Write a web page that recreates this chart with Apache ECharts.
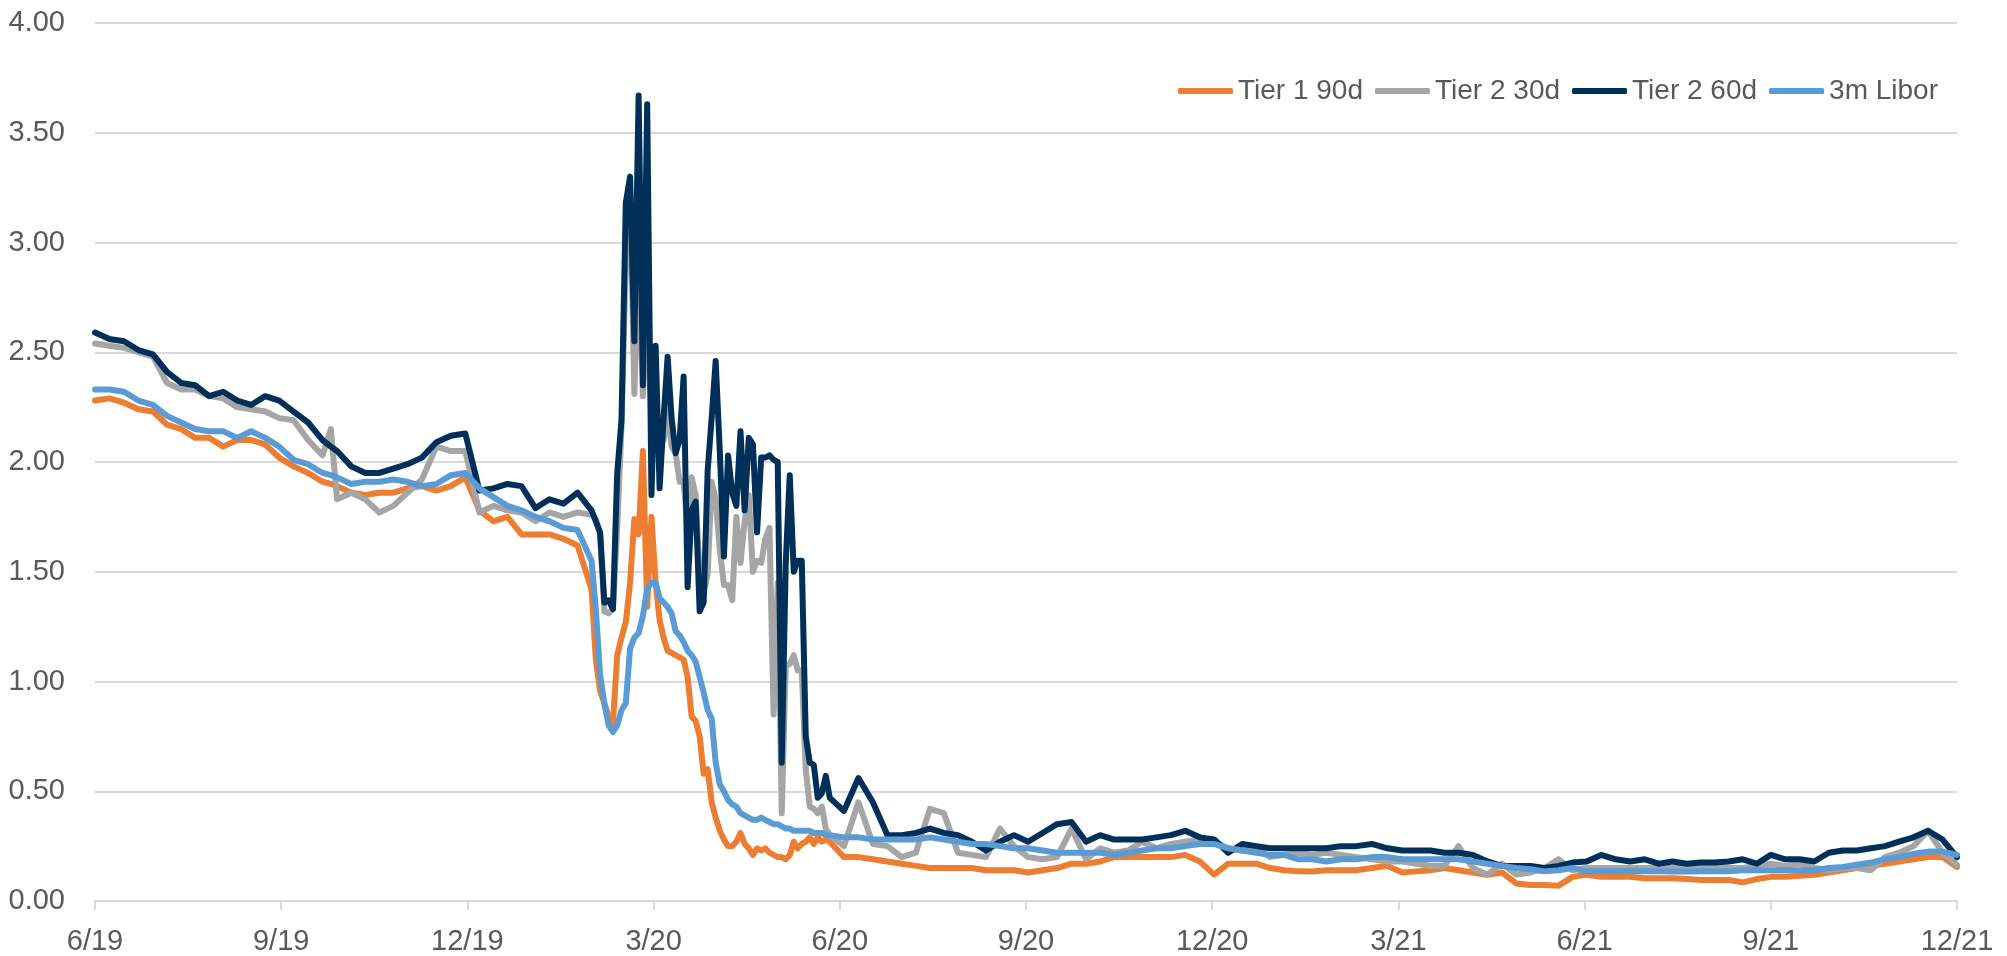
<!DOCTYPE html>
<html>
<head>
<meta charset="utf-8">
<title>Tier 1 / Tier 2 CP vs 3m Libor</title>
<script src="https://cdn.jsdelivr.net/npm/echarts@6.0.0/dist/echarts.min.js"></script>
<style>
  html, body { margin: 0; padding: 0; background: #fff; }
  #chart { width: 2007px; height: 956px; }
</style>
</head>
<body>
<div id="chart"></div>
<script>
// sample dates (weekly, every 2nd day through the spring 2020 spike)
const dates = [
  '2019-06-01', '2019-06-08', '2019-06-15', '2019-06-22', '2019-06-29', '2019-07-06', '2019-07-13', '2019-07-20', '2019-07-27',
  '2019-08-03', '2019-08-10', '2019-08-17', '2019-08-24', '2019-08-31', '2019-09-07', '2019-09-14', '2019-09-21', '2019-09-25',
  '2019-09-28', '2019-10-05', '2019-10-12', '2019-10-19', '2019-10-26', '2019-11-02', '2019-11-09', '2019-11-16', '2019-11-23',
  '2019-11-30', '2019-12-07', '2019-12-14', '2019-12-21', '2019-12-28', '2020-01-04', '2020-01-11', '2020-01-18', '2020-01-25',

  '2020-02-01', '2020-02-03', '2020-02-05', '2020-02-07', '2020-02-09', '2020-02-11', '2020-02-13', '2020-02-15',
  '2020-02-17', '2020-02-19', '2020-02-21', '2020-02-23', '2020-02-25', '2020-02-27', '2020-02-29',
  '2020-03-02', '2020-03-04', '2020-03-06', '2020-03-08', '2020-03-10', '2020-03-12', '2020-03-14', '2020-03-16',
  '2020-03-18', '2020-03-20', '2020-03-22', '2020-03-24', '2020-03-26', '2020-03-28', '2020-03-30',
  '2020-04-01', '2020-04-03', '2020-04-05', '2020-04-07', '2020-04-09', '2020-04-11', '2020-04-13', '2020-04-15',
  '2020-04-17', '2020-04-19', '2020-04-21', '2020-04-23', '2020-04-25', '2020-04-27', '2020-04-29',
  '2020-05-01', '2020-05-03', '2020-05-05', '2020-05-07', '2020-05-09', '2020-05-11', '2020-05-13',
  '2020-05-15', '2020-05-17', '2020-05-19', '2020-05-21', '2020-05-23', '2020-05-25', '2020-05-27',

  '2020-06-03', '2020-06-10', '2020-06-17', '2020-06-24', '2020-07-01', '2020-07-08', '2020-07-15', '2020-07-22', '2020-07-29',
  '2020-08-05', '2020-08-12', '2020-08-19', '2020-08-26', '2020-09-02', '2020-09-09', '2020-09-16', '2020-09-23', '2020-09-30',
  '2020-10-07', '2020-10-14', '2020-10-21', '2020-10-28', '2020-11-04', '2020-11-11', '2020-11-18', '2020-11-25',
  '2020-12-02', '2020-12-09', '2020-12-16', '2020-12-23', '2020-12-30',
  '2021-01-06', '2021-01-13', '2021-01-20', '2021-01-27', '2021-02-03', '2021-02-10', '2021-02-17', '2021-02-24',
  '2021-03-03', '2021-03-10', '2021-03-17', '2021-03-24', '2021-03-31', '2021-04-07', '2021-04-14', '2021-04-21', '2021-04-28',
  '2021-05-05', '2021-05-12', '2021-05-19', '2021-05-26', '2021-06-02', '2021-06-09', '2021-06-16', '2021-06-23', '2021-06-30',
  '2021-07-07', '2021-07-14', '2021-07-21', '2021-07-28', '2021-08-04', '2021-08-11', '2021-08-18', '2021-08-25',
  '2021-09-01', '2021-09-08', '2021-09-15', '2021-09-22', '2021-09-29', '2021-10-06', '2021-10-13', '2021-10-20', '2021-10-27',
  '2021-11-03', '2021-11-10', '2021-11-17', '2021-11-24', '2021-12-01'
];

const tier1_90d = [
  2.28, 2.29, 2.27, 2.24, 2.23, 2.17, 2.15, 2.11, 2.11, 2.07, 2.10, 2.10, 2.08, 2.02, 1.98, 1.95, 1.91, 1.90,
  1.89, 1.86, 1.85, 1.86, 1.86, 1.88, 1.89, 1.87, 1.89, 1.93, 1.78, 1.73, 1.75, 1.67, 1.67, 1.67, 1.65, 1.62,
  // Feb - May 2020
  1.42, 1.10, 0.96, 0.90, 0.84, 0.81, 1.12, 1.20, 1.27, 1.45, 1.74, 1.67, 2.05, 1.34, 1.75,
  1.45, 1.28, 1.20, 1.14, 1.13, 1.12, 1.11, 1.10, 1.02, 0.84, 0.82, 0.75, 0.58, 0.60, 0.45,
  0.38, 0.32, 0.28, 0.25, 0.25, 0.27, 0.31, 0.26, 0.24, 0.21, 0.24, 0.23, 0.24, 0.22, 0.21,
  0.20, 0.20, 0.19, 0.21, 0.27, 0.24, 0.26, 0.27, 0.29, 0.26, 0.29, 0.27, 0.28, 0.27,
  // Jun 2020 - Dec 2021
  0.20, 0.20, 0.19, 0.18, 0.17, 0.16, 0.15, 0.15, 0.15, 0.15, 0.14, 0.14, 0.14, 0.13, 0.14, 0.15, 0.17, 0.17,
  0.18, 0.20, 0.20, 0.20, 0.20, 0.20, 0.21, 0.18, 0.12, 0.17, 0.17, 0.17, 0.15,
  0.14, 0.135, 0.134, 0.14, 0.14, 0.14, 0.15, 0.16, 0.13, 0.135, 0.14, 0.15, 0.14, 0.13, 0.12, 0.13, 0.08,
  0.073, 0.073, 0.07, 0.11, 0.12, 0.11, 0.11, 0.11, 0.104, 0.104, 0.104, 0.10, 0.096, 0.096, 0.096, 0.085, 0.10,
  0.11, 0.11, 0.115, 0.12, 0.13, 0.14, 0.15, 0.16, 0.17, 0.18, 0.19, 0.20, 0.20, 0.155
];

const tier2_30d = [
  2.54, 2.53, 2.52, 2.50, 2.48, 2.36, 2.33, 2.33, 2.30, 2.29, 2.25, 2.24, 2.23, 2.20, 2.19, 2.10, 2.03, 2.15,
  1.83, 1.86, 1.83, 1.77, 1.80, 1.86, 1.92, 2.07, 2.05, 2.05, 1.77, 1.80, 1.78, 1.77, 1.73, 1.77, 1.75, 1.77,
  1.76, 1.74, 1.67, 1.32, 1.31, 1.33, 1.70, 2.16, 2.90, 3.22, 2.31, 2.95, 2.30, 2.70, 2.20,
  2.16, 2.13, 2.10, 2.25, 2.07, 2.04, 1.91, 1.91, 1.70, 1.93, 1.85, 1.49, 1.40, 1.49, 1.91,
  1.83, 1.60, 1.44, 1.44, 1.37, 1.75, 1.54, 1.73, 1.85, 1.50, 1.55, 1.54, 1.65, 1.70, 0.85,
  1.45, 0.40, 1.07, 1.08, 1.12, 1.05, 1.05, 0.60, 0.43, 0.42, 0.40, 0.43, 0.33, 0.30,
  0.25, 0.45, 0.26, 0.25, 0.20, 0.22, 0.42, 0.40, 0.22, 0.21, 0.20, 0.33, 0.25, 0.20, 0.19, 0.20, 0.33, 0.19,
  0.24, 0.22, 0.23, 0.27, 0.24, 0.26, 0.27, 0.28, 0.27, 0.24, 0.23, 0.24, 0.20,
  0.21, 0.22, 0.21, 0.22, 0.21, 0.20, 0.19, 0.18, 0.18, 0.17, 0.16, 0.16, 0.25, 0.15, 0.12, 0.17, 0.12,
  0.13, 0.15, 0.19, 0.14, 0.15, 0.15, 0.15, 0.15, 0.15, 0.15, 0.15, 0.15, 0.15, 0.15, 0.15, 0.15, 0.16,
  0.17, 0.16, 0.17, 0.15, 0.14, 0.15, 0.15, 0.14, 0.20, 0.22, 0.25, 0.32, 0.22, 0.165
];

const tier2_60d = [
  2.59, 2.56, 2.55, 2.51, 2.49, 2.41, 2.36, 2.35, 2.30, 2.32, 2.28, 2.26, 2.30, 2.28, 2.23, 2.18, 2.10, 2.07,
  2.05, 1.98, 1.95, 1.95, 1.97, 1.99, 2.02, 2.09, 2.12, 2.13, 1.87, 1.88, 1.90, 1.89, 1.79, 1.83, 1.81, 1.86,
  1.78, 1.73, 1.68, 1.36, 1.37, 1.33, 1.95, 2.19, 3.18, 3.30, 2.55, 3.67, 2.35, 3.63, 1.85,
  2.53, 1.88, 2.20, 2.48, 2.20, 2.04, 2.10, 2.39, 1.43, 1.78, 1.82, 1.32, 1.36, 1.96, 2.20,
  2.46, 2.05, 1.57, 2.03, 1.86, 1.80, 2.14, 1.78, 2.11, 2.08, 1.68, 2.02, 2.02, 2.03, 2.01,
  2.00, 0.63, 1.54, 1.94, 1.50, 1.55, 1.55, 0.75, 0.63, 0.62, 0.47, 0.49, 0.57, 0.47,
  0.41, 0.56, 0.45, 0.30, 0.30, 0.31, 0.33, 0.31, 0.30, 0.27, 0.23, 0.27, 0.30, 0.27, 0.31, 0.35, 0.36, 0.27,
  0.30, 0.28, 0.28, 0.28, 0.29, 0.30, 0.32, 0.29, 0.28, 0.22, 0.26, 0.25, 0.24,
  0.24, 0.24, 0.24, 0.24, 0.25, 0.25, 0.26, 0.24, 0.23, 0.23, 0.23, 0.22, 0.22, 0.21, 0.18, 0.16, 0.16,
  0.16, 0.15, 0.16, 0.175, 0.18, 0.21, 0.19, 0.18, 0.19, 0.17, 0.18, 0.17, 0.175, 0.175, 0.18, 0.19, 0.17,
  0.21, 0.19, 0.19, 0.18, 0.22, 0.23, 0.23, 0.24, 0.25, 0.27, 0.29, 0.32, 0.28, 0.20
];

const libor3m = [
  2.33, 2.33, 2.32, 2.28, 2.26, 2.21, 2.18, 2.15, 2.14, 2.14, 2.11, 2.14, 2.11, 2.07, 2.01, 1.99, 1.95, 1.94,
  1.93, 1.90, 1.91, 1.91, 1.92, 1.91, 1.89, 1.90, 1.94, 1.95, 1.88, 1.84, 1.80, 1.78, 1.75, 1.73, 1.70, 1.69,
  1.55, 1.33, 1.03, 0.90, 0.80, 0.77, 0.80, 0.87, 0.90, 1.15, 1.20, 1.22, 1.30, 1.42, 1.45,
  1.45, 1.38, 1.36, 1.34, 1.31, 1.23, 1.21, 1.18, 1.14, 1.12, 1.09, 1.02, 0.95, 0.87, 0.83,
  0.63, 0.53, 0.50, 0.46, 0.44, 0.43, 0.40, 0.39, 0.38, 0.37, 0.37, 0.38, 0.37, 0.36, 0.35,
  0.35, 0.34, 0.33, 0.33, 0.32, 0.32, 0.32, 0.32, 0.32, 0.31, 0.31, 0.31, 0.30, 0.30,
  0.29, 0.29, 0.28, 0.28, 0.28, 0.28, 0.29, 0.28, 0.27, 0.26, 0.26, 0.25, 0.24, 0.24, 0.23, 0.22, 0.22, 0.22,
  0.22, 0.21, 0.22, 0.23, 0.24, 0.24, 0.25, 0.26, 0.26, 0.24, 0.23, 0.22, 0.21,
  0.21, 0.19, 0.19, 0.18, 0.19, 0.19, 0.20, 0.20, 0.19, 0.19, 0.19, 0.19, 0.19, 0.18, 0.17, 0.16, 0.15,
  0.145, 0.135, 0.14, 0.15, 0.135, 0.135, 0.135, 0.135, 0.135, 0.135, 0.134, 0.134, 0.135, 0.135, 0.135, 0.14, 0.14,
  0.14, 0.14, 0.14, 0.14, 0.15, 0.155, 0.165, 0.175, 0.19, 0.20, 0.215, 0.225, 0.225, 0.21
];

const tickLabels = ['6/19', '9/19', '12/19', '3/20', '6/20', '9/20', '12/20', '3/21', '6/21', '9/21', '12/21'];

const FONT = "'Liberation Sans', Arial, sans-serif";
const TEXT = '#595959';
const GRID = '#d9d9d9';

[tier1_90d, tier2_30d, tier2_60d, libor3m].forEach((arr, i) => {
  if (arr.length !== dates.length) throw new Error('series ' + i + ' has ' + arr.length + ' values, dates ' + dates.length);
});

// months since 1 Jun 2019 (tick every 3 months)
function monthPos(s) {
  const [y, m, d] = s.split('-').map(Number);
  const days = new Date(y, m, 0).getDate();
  return (y - 2019) * 12 + (m - 6) + (d - 1) / days;
}

function makeSeries(name, values, color) {
  return {
    name: name,
    type: 'line',
    data: dates.map((d, i) => [monthPos(d), values[i]]),
    symbol: 'none',
    showSymbol: false,
    lineStyle: { width: 6, color: color, join: 'round', cap: 'round' },
    itemStyle: { color: color },
    emphasis: { disabled: true }
  };
}

const chart = echarts.init(document.getElementById('chart'));
chart.setOption({
  animation: false,
  backgroundColor: '#fff',
  grid: { left: 95, right: 50, top: 23, bottom: 55, containLabel: false, outerBoundsMode: 'none' },
  legend: {
    right: 64,
    top: 72,
    width: 1000,
    icon: 'roundRect',
    itemWidth: 55,
    itemHeight: 6,
    itemGap: 12,
    textStyle: { color: TEXT, fontSize: 28, fontFamily: FONT },
    data: ['Tier 1 90d', 'Tier 2 30d', 'Tier 2 60d', '3m Libor']
  },
  xAxis: {
    type: 'value',
    min: 0,
    max: 30,
    interval: 3,
    splitLine: { show: false },
    axisLine: { lineStyle: { color: GRID, width: 2 } },
    axisTick: { show: true, length: 9, lineStyle: { color: GRID, width: 2 } },
    axisLabel: {
      color: TEXT,
      fontSize: 29,
      fontFamily: FONT,
      margin: 26,
      showMinLabel: true,
      showMaxLabel: true,
      formatter: (v) => tickLabels[Math.round(v / 3)]
    }
  },
  yAxis: {
    type: 'value',
    min: 0,
    max: 4,
    interval: 0.5,
    axisLine: { show: false },
    axisTick: { show: false },
    splitLine: { lineStyle: { color: GRID, width: 2 } },
    axisLabel: {
      color: TEXT,
      fontSize: 29,
      fontFamily: FONT,
      margin: 30,
      formatter: (v) => v.toFixed(2)
    }
  },
  series: [
    makeSeries('Tier 1 90d', tier1_90d, '#ED7D31'),
    makeSeries('Tier 2 30d', tier2_30d, '#A5A5A5'),
    makeSeries('Tier 2 60d', tier2_60d, '#00305A'),
    makeSeries('3m Libor', libor3m, '#5B9BD5')
  ]
});
</script>
</body>
</html>
